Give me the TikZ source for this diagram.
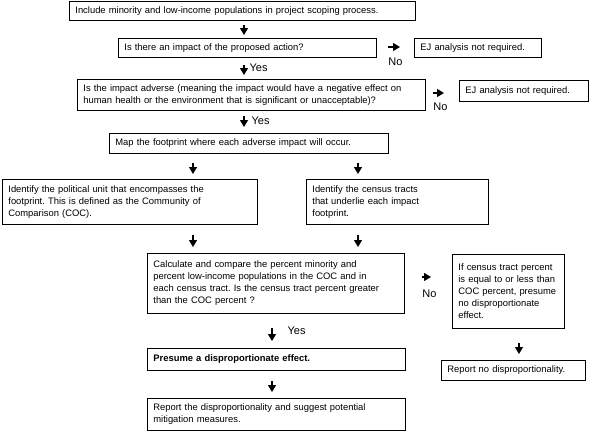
\documentclass[tikz,border=0pt]{standalone}
\usepackage{fontspec}
\setmainfont{Liberation Sans}
\usetikzlibrary{arrows.meta,positioning}
\frenchspacing

\tikzset{
  stage/.style={draw, line width=0.8pt, anchor=north west, align=left,
    inner xsep=6pt, inner ysep=0pt, font=\fontsize{9.4}{12}\selectfont},
  flow/.style={line width=1.1pt, -{Triangle[width=8pt,length=7pt]}},
  tag/.style={inner sep=0pt, font=\fontsize{11}{12}\selectfont}
}

\begin{document}
\begin{tikzpicture}[x=1pt, y=-1pt]
    \useasboundingbox (0,0) rectangle (591,432);

    % Boxes of the screening steps
    \node[stage, text width=334pt, minimum height=19pt] (scope) at (69,1)
        {Include minority and low-income populations in project scoping process.};
    \node[stage, text width=246pt, minimum height=19pt] (impact) at (118,38)
        {Is there an impact of the proposed action?};
    \node[stage, text width=115pt, minimum height=19pt] (noej1) at (414,38)
        {EJ analysis not required.};
    \node[stage, text width=336pt, minimum height=31pt] (adverse) at (77,79)
        {Is the impact adverse (meaning the impact would have a negative effect on\\
         human health or the environment that is significant or unacceptable)?};
    \node[stage, text width=117pt, minimum height=21pt] (noej2) at (459,80)
        {EJ analysis not required.};
    \node[stage, text width=267pt, minimum height=20pt] (footprint) at (109,133)
        {Map the footprint where each adverse impact will occur.};
    \node[stage, text width=243pt, minimum height=45pt] (unit) at (2,179)
        {Identify the political unit that encompasses the\\
         footprint. This is defined as the Community of\\
         Comparison (COC).};
    \node[stage, text width=170pt, minimum height=45pt] (tracts) at (306,179)
        {Identify the census tracts\\
         that underlie each impact\\
         footprint.};
    \node[stage, text width=245pt, minimum height=60pt] (compare) at (147,253)
        {Calculate and compare the percent minority and\\
         percent low-income populations in the COC and in\\
         each census tract. Is the census tract percent greater\\
         than the COC percent ?};
    \node[stage, text width=100pt, minimum height=74pt] (equal) at (452,254)
        {If census tract percent\\
         is equal to or less than\\
         COC percent, presume\\
         no disproportionate\\
         effect.};
    \node[stage, text width=132pt, minimum height=20pt] (nodisp) at (441,360)
        {Report no disproportionality.};
    \node[stage, text width=246pt, minimum height=22pt] (presume) at (147,348)
        {\bfseries Presume a disproportionate effect.};
    \node[stage, text width=246pt, minimum height=32pt] (report) at (147,398)
        {Report the disproportionality and suggest potential\\
         mitigation measures.};

    % Columns and rows of the arrows
    \coordinate (colA) at (244,0);
    \coordinate (colB) at (193,0);
    \coordinate (colC) at (358,0);
    \coordinate (colD) at (272,0);
    \coordinate (colE) at (519,0);
    \coordinate (rowA) at (0,47);
    \coordinate (rowB) at (0,93);
    \coordinate (rowC) at (0,277);

    % Down arrows
    \draw[flow, shorten <=4pt, shorten >=3pt] (scope.south -| colA) -- (impact.north -| colA);
    \draw[flow, shorten <=7pt, shorten >=4pt] (impact.south -| colA) --
        node[tag, anchor=west, xshift=5pt, pos=0.45] (yes1) {Yes} (adverse.north -| colA);
    \draw[flow, shorten <=5pt, shorten >=6pt] (adverse.south -| colA) --
        node[tag, anchor=west, xshift=7pt, pos=0.43] (yes2) {Yes} (footprint.north -| colA);
    \draw[flow, shorten <=9pt, shorten >=5pt] (footprint.south -| colB) -- (unit.north -| colB);
    \draw[flow, shorten <=9pt, shorten >=5pt] (footprint.south -| colC) -- (tracts.north -| colC);
    \draw[flow, shorten <=10pt, shorten >=6pt] (unit.south -| colB) -- (compare.north -| colB);
    \draw[flow, shorten <=10pt, shorten >=6pt] (tracts.south -| colC) -- (compare.north -| colC);
    \draw[flow, shorten <=14pt, shorten >=7pt] (compare.south -| colD) --
        node[tag, anchor=west, xshift=15pt, pos=0.5] (yes3) {Yes} (presume.north -| colD);
    \draw[flow, shorten <=10pt, shorten >=6pt] (presume.south -| colD) -- (report.north -| colD);
    \draw[flow, shorten <=14pt, shorten >=6pt] (equal.south -| colE) -- (nodisp.north -| colE);

    % Side arrows
    \draw[flow, shorten <=11pt, shorten >=14pt] (impact.east |- rowA) --
        node[tag, below=10pt] (no1) {No} (noej1.west |- rowA);
    \draw[flow, shorten <=7pt, shorten >=15pt] (adverse.east |- rowB) --
        node[tag, below=9pt, xshift=-2pt] (no2) {No} (noej2.west |- rowB);
    \draw[flow, shorten <=17pt, shorten >=21pt] (compare.east |- rowC) --
        node[tag, below=12pt, xshift=1pt] (no3) {No} (equal.west |- rowC);
\end{tikzpicture}
\end{document}
